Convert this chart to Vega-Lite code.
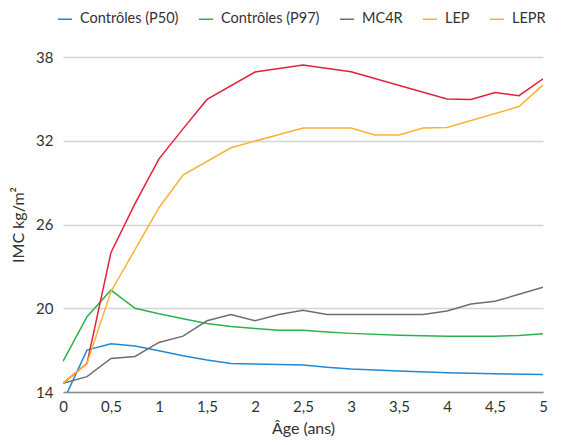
{
  "$schema": "https://vega.github.io/schema/vega-lite/v6.json",
  "width": 480,
  "height": 335,
  "autosize": {"type": "none"},
  "padding": {"left": 63, "top": 57, "right": 21, "bottom": 53},
  "background": "white",
  "config": {
    "font": "Lato",
    "view": {"stroke": null},
    "axis": {"labelFont": "Lato", "titleFont": "Lato", "labelFontSize": 15, "titleFontSize": 16, "labelColor": "#333333", "titleColor": "#333333", "titleFontWeight": "normal", "ticks": false},
    "legend": {"labelFont": "Lato", "labelFontSize": 14.5, "labelColor": "#333333"}
  },
  "data": {
    "values": [
      {"serie": "Contrôles (P50)", "age": 0, "imc": 13.3},
      {"serie": "Contrôles (P50)", "age": 0.25, "imc": 17.0},
      {"serie": "Contrôles (P50)", "age": 0.5, "imc": 17.45},
      {"serie": "Contrôles (P50)", "age": 0.75, "imc": 17.3},
      {"serie": "Contrôles (P50)", "age": 1, "imc": 16.95},
      {"serie": "Contrôles (P50)", "age": 1.25, "imc": 16.6},
      {"serie": "Contrôles (P50)", "age": 1.5, "imc": 16.3},
      {"serie": "Contrôles (P50)", "age": 1.75, "imc": 16.05},
      {"serie": "Contrôles (P50)", "age": 2, "imc": 16.0},
      {"serie": "Contrôles (P50)", "age": 2.5, "imc": 15.93},
      {"serie": "Contrôles (P50)", "age": 2.75, "imc": 15.77},
      {"serie": "Contrôles (P50)", "age": 3, "imc": 15.65},
      {"serie": "Contrôles (P50)", "age": 3.5, "imc": 15.5},
      {"serie": "Contrôles (P50)", "age": 4, "imc": 15.38},
      {"serie": "Contrôles (P50)", "age": 4.5, "imc": 15.3},
      {"serie": "Contrôles (P50)", "age": 5, "imc": 15.26},
      {"serie": "Contrôles (P97)", "age": 0, "imc": 16.2},
      {"serie": "Contrôles (P97)", "age": 0.25, "imc": 19.4},
      {"serie": "Contrôles (P97)", "age": 0.5, "imc": 21.3},
      {"serie": "Contrôles (P97)", "age": 0.75, "imc": 20.0},
      {"serie": "Contrôles (P97)", "age": 1, "imc": 19.6},
      {"serie": "Contrôles (P97)", "age": 1.25, "imc": 19.25},
      {"serie": "Contrôles (P97)", "age": 1.5, "imc": 18.9},
      {"serie": "Contrôles (P97)", "age": 1.75, "imc": 18.7},
      {"serie": "Contrôles (P97)", "age": 2, "imc": 18.55},
      {"serie": "Contrôles (P97)", "age": 2.25, "imc": 18.43},
      {"serie": "Contrôles (P97)", "age": 2.5, "imc": 18.42},
      {"serie": "Contrôles (P97)", "age": 2.75, "imc": 18.3},
      {"serie": "Contrôles (P97)", "age": 3, "imc": 18.2},
      {"serie": "Contrôles (P97)", "age": 3.5, "imc": 18.07},
      {"serie": "Contrôles (P97)", "age": 4, "imc": 18.0},
      {"serie": "Contrôles (P97)", "age": 4.5, "imc": 18.0},
      {"serie": "Contrôles (P97)", "age": 4.75, "imc": 18.05},
      {"serie": "Contrôles (P97)", "age": 5, "imc": 18.18},
      {"serie": "MC4R", "age": 0, "imc": 14.62},
      {"serie": "MC4R", "age": 0.25, "imc": 15.1},
      {"serie": "MC4R", "age": 0.5, "imc": 16.4},
      {"serie": "MC4R", "age": 0.75, "imc": 16.55},
      {"serie": "MC4R", "age": 1, "imc": 17.55},
      {"serie": "MC4R", "age": 1.25, "imc": 18.0},
      {"serie": "MC4R", "age": 1.5, "imc": 19.1},
      {"serie": "MC4R", "age": 1.75, "imc": 19.55},
      {"serie": "MC4R", "age": 2, "imc": 19.1},
      {"serie": "MC4R", "age": 2.25, "imc": 19.55},
      {"serie": "MC4R", "age": 2.5, "imc": 19.85},
      {"serie": "MC4R", "age": 2.75, "imc": 19.55},
      {"serie": "MC4R", "age": 3, "imc": 19.55},
      {"serie": "MC4R", "age": 3.5, "imc": 19.55},
      {"serie": "MC4R", "age": 3.75, "imc": 19.55},
      {"serie": "MC4R", "age": 4, "imc": 19.8},
      {"serie": "MC4R", "age": 4.25, "imc": 20.3},
      {"serie": "MC4R", "age": 4.5, "imc": 20.5},
      {"serie": "MC4R", "age": 4.75, "imc": 21.0},
      {"serie": "MC4R", "age": 5, "imc": 21.5},
      {"serie": "LEP", "age": 0, "imc": 14.62},
      {"serie": "LEP", "age": 0.25, "imc": 16.05},
      {"serie": "LEP", "age": 0.5, "imc": 24.0},
      {"serie": "LEP", "age": 0.75, "imc": 27.5},
      {"serie": "LEP", "age": 1, "imc": 30.7},
      {"serie": "LEP", "age": 1.25, "imc": 32.85},
      {"serie": "LEP", "age": 1.5, "imc": 34.96},
      {"serie": "LEP", "age": 2, "imc": 36.92},
      {"serie": "LEP", "age": 2.5, "imc": 37.42},
      {"serie": "LEP", "age": 3, "imc": 36.94},
      {"serie": "LEP", "age": 4, "imc": 34.99},
      {"serie": "LEP", "age": 4.25, "imc": 34.96},
      {"serie": "LEP", "age": 4.5, "imc": 35.46},
      {"serie": "LEP", "age": 4.75, "imc": 35.23},
      {"serie": "LEP", "age": 5, "imc": 36.44},
      {"serie": "LEPR", "age": 0, "imc": 14.62},
      {"serie": "LEPR", "age": 0.25, "imc": 16.05},
      {"serie": "LEPR", "age": 0.5, "imc": 21.2},
      {"serie": "LEPR", "age": 1, "imc": 27.2},
      {"serie": "LEPR", "age": 1.25, "imc": 29.54},
      {"serie": "LEPR", "age": 1.75, "imc": 31.5},
      {"serie": "LEPR", "age": 2.5, "imc": 32.92},
      {"serie": "LEPR", "age": 3, "imc": 32.92},
      {"serie": "LEPR", "age": 3.25, "imc": 32.42},
      {"serie": "LEPR", "age": 3.5, "imc": 32.42},
      {"serie": "LEPR", "age": 3.75, "imc": 32.92},
      {"serie": "LEPR", "age": 4, "imc": 32.95},
      {"serie": "LEPR", "age": 4.75, "imc": 34.45},
      {"serie": "LEPR", "age": 5, "imc": 36.0}
    ]
  },
  "encoding": {
    "x": {
      "field": "age", "type": "quantitative",
      "scale": {"domain": [0, 5], "nice": false},
      "axis": {
        "title": "Âge (ans)",
        "values": [0, 0.5, 1, 1.5, 2, 2.5, 3, 3.5, 4, 4.5, 5],
        "labelExpr": "replace(toString(datum.value), '.', ',')",
        "grid": false,
        "domain": true, "domainColor": "#8c8c8c", "domainWidth": 1.5,
        "labelPadding": 7, "titlePadding": 6, "labelFlush": false
      }
    },
    "y": {
      "field": "imc", "type": "quantitative",
      "scale": {"domain": [14, 38], "nice": false, "zero": false},
      "axis": {
        "title": "IMC kg/m²",
        "values": [14, 20, 26, 32, 38],
        "grid": true, "gridColor": "#d4d4d4", "gridWidth": 1.5,
        "domain": false,
        "labelPadding": 10, "titlePadding": 9
      }
    }
  },
  "layer": [
    {
      "transform": [{"filter": "datum.age == 0"}],
      "mark": {"type": "line", "strokeWidth": 1.5},
      "encoding": {
        "color": {
          "field": "serie", "type": "nominal",
          "scale": {
            "domain": ["Contrôles (P50)", "Contrôles (P97)", "MC4R", "LEP", "LEPR"],
            "range": ["#1f8ad3", "#2bb24c", "#6e6e6e", "#f9b233", "#f9b233"]
          },
          "legend": {
            "title": null,
            "orient": "none",
            "direction": "horizontal",
            "legendX": -6,
            "legendY": -46,
            "symbolType": "stroke",
            "symbolSize": 200,
            "symbolStrokeWidth": 1.5,
            "labelOffset": 7,
            "columnPadding": 16
          }
        }
      }
    },
    {
      "mark": {"type": "line", "strokeWidth": 1.5, "clip": true},
      "encoding": {
        "color": {
          "field": "serie", "type": "nominal",
          "sort": ["Contrôles (P50)", "Contrôles (P97)", "MC4R", "LEP", "LEPR"],
          "scale": {
            "domain": ["Contrôles (P50)", "Contrôles (P97)", "MC4R", "LEP", "LEPR"],
            "range": ["#1f8ad3", "#2bb24c", "#6e6e6e", "#e2213b", "#f9b233"]
          },
          "legend": null
        }
      }
    }
  ],
  "resolve": {"scale": {"color": "independent"}}
}
